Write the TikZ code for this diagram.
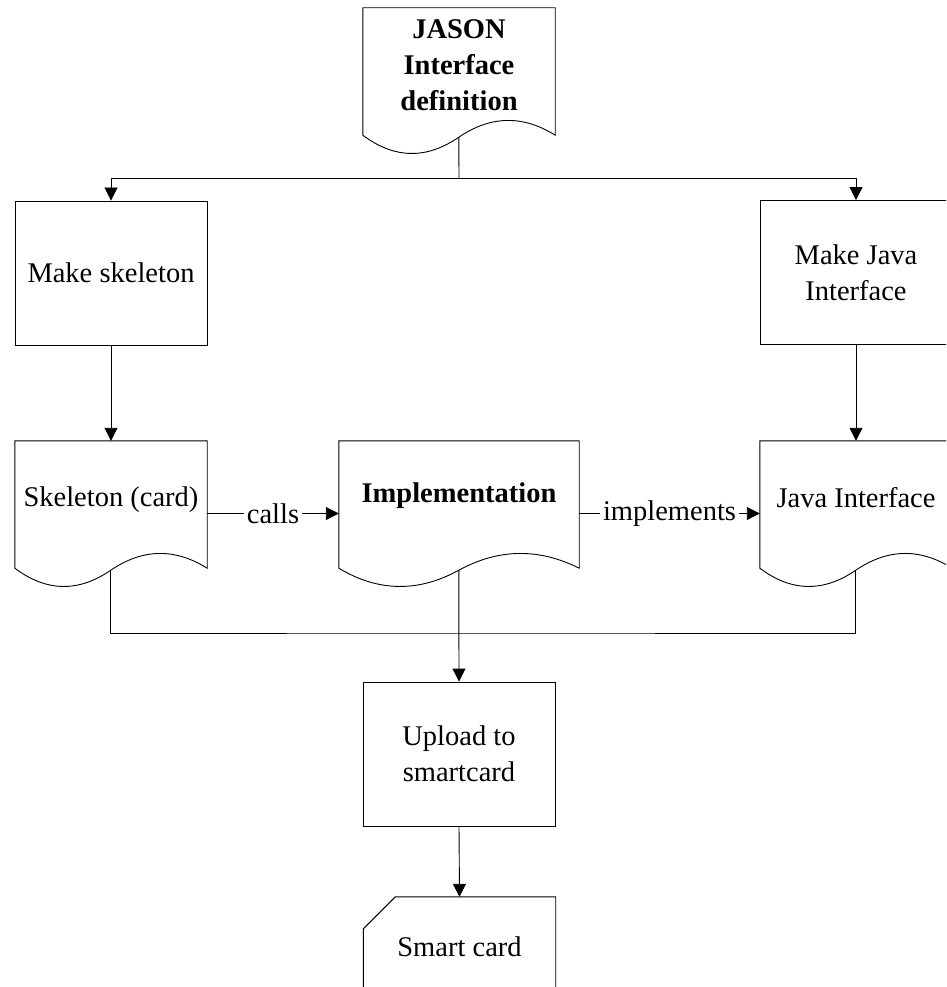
\documentclass[tikz,border=0pt]{standalone}
\usepackage{fontspec}
\setmainfont{Liberation Serif}
\usetikzlibrary{arrows.meta,calc}
\tikzset{
  shp/.style={draw=black, line width=0.9pt},
  txt/.style={font=\fontsize{28.5}{36}\selectfont},
  btxt/.style={font=\fontsize{28.5}{36}\selectfont\bfseries},
  box/.style={shp, txt, minimum width=192pt, minimum height=144pt, inner sep=0pt, align=center},
  docnode/.style={minimum width=192pt, minimum height=145pt, inner sep=0pt},
  doctext/.style={txt, align=center, inner sep=0pt},
  conn/.style={line width=0.9pt},
  arr/.style={conn, -{Triangle[length=13pt,width=13pt]}},
  lbl/.style={txt, fill=white, inner xsep=3pt, inner ysep=1pt},
}
% #1 node name, #2 node width (pt, number)
\newcommand\docoutline[2]{%
  \draw[shp] (#1.north west) -- (#1.north east)
    -- ([yshift=18pt]#1.south east)
    .. controls ([shift={({-(#2)/6*1pt},38pt)}]#1.south east) and ([shift={({-(#2)/3*1pt},38pt)}]#1.south east) ..
    ([shift={({(#2)/2*1pt},16pt)}]#1.south west) coordinate (#1w)
    .. controls ([shift={({(#2)/3*1pt},-6pt)}]#1.south west) and ([shift={({(#2)/6*1pt},-6pt)}]#1.south west) ..
    ([yshift=18pt]#1.south west) -- cycle;}
\begin{document}
\begin{tikzpicture}[x=1pt,y=-1pt]
  \useasboundingbox (0,0) rectangle (946,987);
  \clip (0,0) rectangle (946,987);
  \fill[white] (0,0) rectangle (946,987);

  % document-shaped nodes
  \node[docnode, label={[doctext, btxt, yshift=15pt]center:{JASON\\Interface\\definition}}] (jason) at (459,80.5) {};
  \node[docnode, label={[doctext, yshift=14pt]center:{Skeleton (card)}}] (skel) at (111,513.5) {};
  \node[docnode, minimum width=240pt, label={[doctext, btxt, yshift=18pt]center:{Implementation}}] (impl) at (459,513.5) {};
  \node[docnode, label={[doctext, yshift=16pt]center:{Java Interface}}] (javai) at (856,513.5) {};
  \docoutline{jason}{192}
  \docoutline{skel}{192}
  \docoutline{impl}{240}
  \docoutline{javai}{192}

  % process boxes
  \node[box] (mskel) at (111,273) {Make skeleton};
  \node[box] (mjava) at (856,272.5) {Make Java\\Interface};
  \node[box] (upload) at (459,754) {Upload to\\smartcard};

  % card shape
  \node[docnode, minimum height=144pt, label={[doctext, yshift=22pt]center:{Smart card}}] (card) at (459.5,969) {};
  \draw[shp] ([yshift=-32pt]card.north west) -- ([xshift=32pt]card.north west)
    -- (card.north east) -- (card.south east) -- (card.south west) -- cycle;

  % junction points
  \coordinate (split) at (459,178);
  \coordinate (merge) at (459,633);

  % connectors
  \draw[conn] (jasonw) -- (split);
  \draw[arr] (split) -| (mskel.north);
  \draw[arr] (split) -| (mjava.north);
  \draw[arr] (mskel.south) -- (skel.north);
  \draw[arr] (mjava.south) -- (javai.north);
  \draw[arr] (skel.east) -- node[lbl] {calls} (impl.west);
  \draw[arr] (impl.east) -- node[lbl] {implements} (javai.west);
  \draw[conn] (skelw) |- (merge) -| (javaiw);
  \draw[arr] (implw) -- (upload.north);
  \draw[arr] (upload.south) -- (card.north);
\end{tikzpicture}
\end{document}
